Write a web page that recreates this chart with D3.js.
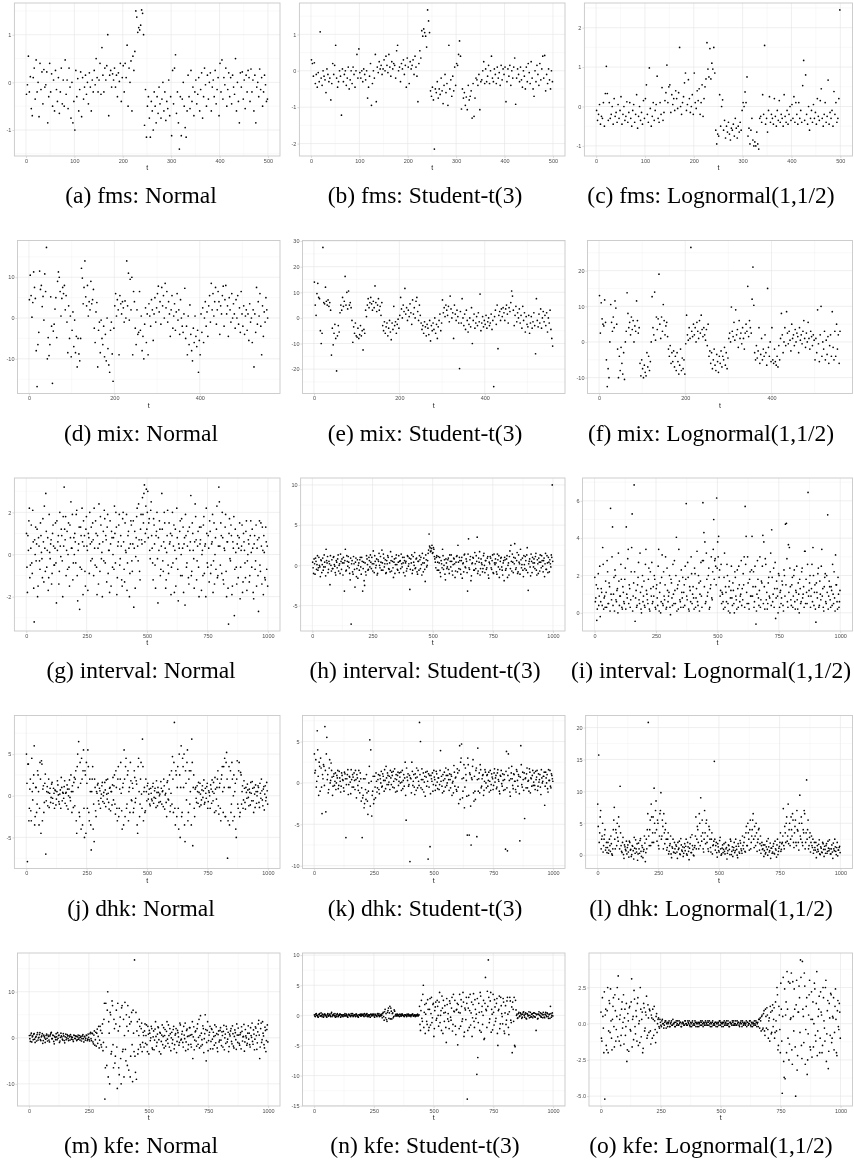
<!DOCTYPE html>
<html><head><meta charset="utf-8">
<script src="https://cdn.jsdelivr.net/npm/d3@7"></script>
<style>body{margin:0;background:#fff}
svg{will-change:transform}
.cap{font-family:"Liberation Serif","Times New Roman",Times,"DejaVu Serif",serif;}
.tk{font-family:"Liberation Sans",Arial,sans-serif;}
</style>
</head><body>
<svg id="c" width="854" height="1160"></svg>
<script>
const captions = [
 "(a) fms: Normal","(b) fms: Student-t(3)","(c) fms: Lognormal(1,1/2)",
 "(d) mix: Normal","(e) mix: Student-t(3)","(f) mix: Lognormal(1,1/2)",
 "(g) interval: Normal","(h) interval: Student-t(3)","(i) interval: Lognormal(1,1/2)",
 "(j) dhk: Normal","(k) dhk: Student-t(3)","(l) dhk: Lognormal(1,1/2)",
 "(m) kfe: Normal","(n) kfe: Student-t(3)","(o) kfe: Lognormal(1,1/2)"];
const seriesLength = [500,500,500,560,560,560,1000,1000,1000,1000,1000,1000,1000,1000,1000];
const sampleStep   = [2,2,2,2,2,2,4,4,4,4,4,4,4,4,4];
const xTicks500 = [0,100,200,300,400,500];
const xTicks560 = [0,200,400];
const xTicks1000 = [0,250,500,750,1000];
const yTicks = [[-1,0,1],[-2,-1,0,1],[-1,0,1,2],[-10,0,10],[-20,-10,0,10,20,30],[-10,0,10,20],
 [-2,0,2],[-5,0,5,10],[0,2,4,6],[-5,0,5],[-10,-5,0,5],[0,5,10,15,20],[-10,0,10],[-15,-10,-5,0,5,10],[-5,-2.5,0,2.5]];

const fmsNormal = [
-0.25,-0.05,0.55,-0.2,0.12,-0.55,-0.7,0.1,0.3,-0.35,
0.47,-0.2,0.0,-0.72,0.4,-0.15,0.22,-0.45,0.27,-0.1,
-0.05,0.22,-0.85,-0.3,0.4,-0.2,0.18,-0.5,0.05,-0.6,
0.25,-0.15,-0.4,0.1,-0.65,-0.2,0.3,-0.45,0.05,-0.5,
0.47,-0.25,0.05,-0.55,0.3,-0.1,-0.75,0.0,-0.85,-0.4,
-1.0,0.25,-0.3,0.08,-0.6,-0.15,0.22,-0.72,0.1,-0.35,
-0.1,0.15,-0.25,0.0,-0.45,0.2,-0.1,-0.6,0.05,-0.2,
0.25,-0.05,0.5,0.1,-0.2,0.05,0.4,-0.25,0.73,0.15,
-0.2,0.3,0.05,0.35,1.0,-0.7,0.15,0.25,-0.1,0.18,
0.05,0.3,-0.1,0.15,-0.3,0.2,0.02,0.4,-0.4,0.1,
0.35,-0.2,0.4,0.1,0.78,-0.5,0.3,0.0,0.45,-0.6,
0.55,0.25,0.65,1.5,1.37,1.05,1.15,1.1,1.2,1.52,
1.45,1.0,-0.9,-0.15,-1.15,-0.5,-0.3,-0.75,-1.15,-0.4,
-0.6,-1.0,-0.2,-0.5,-0.85,-0.3,-0.65,-0.1,-0.45,-0.75,
-0.35,0.0,-0.6,-0.2,-0.8,-0.4,-0.55,0.05,-0.7,-0.3,
-1.12,0.25,-0.45,0.3,0.58,-0.65,-0.2,-0.85,-1.4,-0.3,
-1.12,-0.35,0.0,-0.5,-0.95,-1.15,-0.6,0.15,-0.3,-0.55,
0.25,-0.4,-0.1,-0.7,-0.2,0.05,-0.45,-0.25,0.1,-0.6,
-0.15,0.2,-0.75,-0.3,0.3,-0.05,-0.5,0.15,-0.35,0.0,
0.2,-0.6,-0.1,0.05,-0.3,0.25,-0.45,-0.15,0.1,-0.7,
0.4,-0.2,0.47,-0.35,0.1,-0.05,0.3,-0.5,-0.15,0.2,
-0.3,0.1,-0.45,0.15,-0.1,-0.25,0.5,-0.6,0.0,-0.4,
-0.85,0.2,-0.1,0.22,-0.35,0.05,-0.55,0.15,-0.2,0.25,
0.1,-0.4,0.28,-0.2,0.05,-0.6,0.15,-0.85,-0.1,0.0,
-0.3,0.28,-0.15,0.1,-0.5,-0.2,0.15,-0.05,-0.4,-0.35];

const fmsStudent = [
0.3,0.2,-0.15,0.22,-0.35,-0.1,-0.45,-0.05,-0.3,1.07,
-0.2,-0.4,0.0,-0.15,-0.25,-0.6,0.05,-0.1,-0.3,-0.2,
-0.8,-0.35,0.2,-0.1,0.15,0.7,-0.2,-0.45,-0.3,0.0,
-0.15,-1.22,0.05,-0.3,-0.1,0.0,-0.4,-0.2,0.1,-0.5,
-0.25,0.0,-0.35,0.1,-0.1,-0.45,0.0,0.45,-0.2,0.6,
-0.05,-0.2,0.0,-0.3,0.05,-0.1,-0.25,0.0,-0.75,-0.45,
-0.15,0.2,-0.95,-0.35,0.0,-0.2,0.45,-0.85,0.1,-0.05,
0.25,0.05,0.15,-0.1,0.05,0.3,0.0,0.4,0.15,-0.05,
0.45,0.1,-0.15,0.25,0.05,0.2,0.15,-0.2,0.55,0.7,
0.0,0.1,-0.3,0.2,0.05,0.3,-0.1,0.15,-0.45,0.35,
0.1,-0.35,0.25,0.05,0.15,0.3,-0.1,0.4,0.1,-0.15,
-0.85,0.2,0.55,0.35,1.1,0.95,1.15,1.05,0.95,0.65,
1.67,1.37,1.05,-0.55,-0.7,-0.45,-0.8,-2.15,-0.5,-0.6,
-0.3,-0.75,-0.5,-0.65,-0.2,-0.55,-0.9,-0.4,-0.1,-0.6,
-0.35,-0.95,0.7,-0.5,-0.25,-0.7,-0.15,-0.55,0.1,-0.4,
0.2,0.15,0.45,0.82,0.4,-1.05,-0.5,-0.75,-0.6,-0.95,
-0.72,-1.07,-0.4,-0.8,-0.7,-0.55,-1.3,-0.35,-1.25,-0.75,
-0.2,-0.25,-0.4,-0.1,-1.07,-0.3,-0.25,0.0,0.25,-0.35,
0.05,-0.3,-0.15,0.15,-0.35,0.0,0.4,-0.2,-0.3,0.05,
-0.1,-0.35,0.1,-0.2,-0.05,-0.4,0.15,-0.25,0.05,-0.1,
0.1,-0.85,-0.3,0.05,-0.15,0.15,-0.4,0.0,-0.2,0.1,
0.35,-0.92,-0.2,0.05,-0.1,-0.3,0.1,-0.25,-0.45,0.0,
-0.15,-0.5,0.1,-0.3,0.2,-0.05,-0.35,0.25,-0.2,-0.5,
-0.7,0.0,-0.3,0.15,-0.1,-0.4,0.2,-0.25,0.05,0.4,
-0.2,0.42,-0.55,-0.1,-0.35,0.05,-0.25,-0.5,0.0,-0.3];

const fmsLognormal = [
-0.1,-0.35,-0.2,0.05,-0.45,-0.25,-0.3,0.1,-0.5,0.33,
1.02,0.33,-0.35,0.1,-0.3,-0.2,0.0,-0.45,0.2,-0.25,
-0.15,-0.4,0.05,-0.3,-0.1,0.25,-0.45,-0.2,0.0,-0.35,
-0.25,0.12,-0.4,-0.15,0.1,-0.3,-0.5,-0.1,0.05,-0.4,
-0.2,0.3,-0.55,-0.25,0.0,-0.35,-0.15,-0.45,0.15,-0.3,
0.2,0.55,-0.2,-0.4,0.98,-0.05,-0.5,-0.25,0.1,-0.35,
-0.1,0.05,0.77,-0.3,-0.4,0.1,-0.2,0.48,-0.35,-0.15,
0.15,0.35,1.05,0.1,0.5,0.55,-0.15,0.3,0.05,0.2,
-0.1,0.4,0.2,-0.05,0.35,1.5,0.0,-0.2,0.1,0.25,
0.6,0.85,-0.1,0.05,0.68,0.2,-0.15,0.0,0.3,-0.2,
0.85,0.1,-0.05,0.4,0.15,0.45,-0.2,0.1,0.55,-0.25,
0.2,0.5,0.7,1.62,0.95,0.75,1.47,0.7,1.1,0.95,
1.5,0.85,-0.6,-0.95,-0.7,-0.75,0.3,-0.5,0.0,0.17,
-0.6,-0.35,-0.8,-0.5,-0.65,-0.4,-0.7,-0.85,-0.55,-0.6,
-0.45,-0.75,-0.3,-0.55,-0.8,-0.5,-0.65,-0.4,-0.6,-0.1,
0.1,0.0,0.37,0.1,0.75,-0.75,-0.55,-0.95,-0.6,-0.3,
-0.85,-1.0,-0.9,-1.0,-0.65,-0.95,-1.08,-0.3,-0.25,-0.4,
0.3,-0.2,1.55,-0.45,-0.3,-0.65,-0.1,0.25,-0.4,-0.2,
-0.3,-0.45,0.2,-0.25,-0.5,-0.1,-0.35,0.15,-0.4,-0.2,
-0.3,-0.5,0.3,-0.25,-0.4,-0.1,-0.45,-0.2,0.0,-0.35,
0.05,-0.3,0.25,-0.4,0.1,-0.2,-0.45,0.1,-0.3,-0.1,
-0.4,0.53,1.17,-0.35,0.8,-0.2,-0.45,0.0,-0.6,-0.3,
-0.1,-0.4,0.05,-0.3,-0.15,-0.45,0.2,-0.25,-0.35,0.15,
0.45,-0.3,-0.5,-0.2,0.1,-0.4,-0.25,0.67,-0.45,-0.15,
-0.3,-0.1,-0.5,0.38,-0.2,0.1,-0.4,-0.3,0.2,2.45];

const mixNormal = [
4.5,10.5,5.5,0.2,3.8,11.3,7.5,4.8,-8,-16.8,
-6.5,-3.5,11.5,7,8,2.8,5.3,-0.5,10.8,6.5,
17.3,-10,-4.8,-9.2,-6.5,5.2,-2,-16,-3.2,-1.5,
2.2,5,-4.8,9,11.3,10,6.5,0.5,4.8,7.5,
6,8,2,5.5,-1,-8.5,3,-5,0.5,-9.5,
-3,1.5,-7,-0.5,-8.5,-4.5,-12,-5,-8.8,-10.5,
-5,12.2,9.8,3.5,7.5,14,5.2,3,8,0.5,
4,2,9,3.5,4.5,7,-2.5,-6,1.5,3.8,
-12,-3,-1,-8.5,-0.5,-5,-6.5,-2,-9.5,-4,
-10.5,0,-7.5,-11.5,-13.3,-3,-1,-8.8,-15.5,-2.5,
3,6,0.5,4.5,2,-9,5.5,3.5,1,4,
2.5,-1,4.2,0,14,3,11,-0.5,9.5,2,
10,-9,6.5,4,-2.5,-6.5,2,-4,-3.5,6.5,
-3,0.5,-8,-4.5,-10,-1.5,2.5,-6,1,-9,
3.5,0.5,-2,4.5,2,-5.5,1,5,-1,2.5,
6,7.8,1.5,4,-1.5,7.5,3,5.5,0,8.5,
2.5,6.5,-1,4,1,-4.5,2,5.5,-2.5,0.5,
3.5,-3,1.5,6,-0.5,2,-4,4.5,0,-2,
-3.5,1,7.3,-5,-2,-9,0.5,-6.5,3.2,-4,
-8,-10.5,-2.5,-6,0.5,-4.5,-7,-3,-13.3,-5.5,
-9,1,-3.5,2.5,-6,0,4,-2,1.5,-4.5,
3,5.5,-1,8.5,2,6,0.5,4,7.5,-1.5,
2,6.5,4,-4,3,1,5.5,7.8,-2,4.5,
8,1,3,-4.5,5,2,-1,6,0,3.5,
1,-2.5,4.5,0,5.5,-1.5,2.5,-3.5,6.5,1,
-2,3,-4,0.5,2,-3,1,-5.5,3.5,-1,
0,-6,2,-12,1,-3.5,7.5,-1.5,4,0.5,
6,-2,-9,3,-4.5,1.5,-1,5,2,0];

const mixStudent = [
14,5,1,9.5,13.5,8,7.5,-5,-10,-6,
27.5,6,5.5,12,6.5,5,7,4.5,6,3,
-14.5,-4,-10.5,-6,-2.5,-8,-20.7,-7,-3,-5.5,
2,5,3,8,4.5,6.5,16.2,5,10,3.5,
10.5,5,6,4,-1,-9.5,-3.5,-6,-2,-7,
-7.5,-4,-8,-6.5,-3,-7,-5,-12.5,-4.5,-6,
3,0.5,5,7.5,4,6,8,5.5,3,6.5,
4,12.5,6,2.5,5,7.5,3,4.5,1,6,
-3,-5,-1.5,-6,-3.5,-2,-7,-4,-1,-5.5,
-8.5,-2,-4.5,4.5,-3,-1.5,-6,-2.5,-0.5,-4,
1,8,3.5,0,5,2.5,11.5,1.5,4,-1,
3,0.5,5.5,2,-2.5,7,1.5,4,0,6.5,
8,2.5,-1,5,1,-2,-4.5,-3,-6,-1.5,
-3.5,-7,-2.5,-4,-6.5,-1,-9,-3,-5,-2,
-4.5,0,-6,-2.5,-8,-3.5,-1,1.5,-5,-2,
7,2,4,0.5,5,3,1,4.5,-1.5,8.5,
3.5,0,2,-8,5,1.5,-1,3,0.5,-2,
-19.8,2.5,-2,7.5,0,-3,1.5,-4.5,3,-1,
-5.5,-2.5,0,-3.5,4,-10,-1,1.5,-4,-2,
0.5,-3,2,-1.5,9.3,-5,-2,0.5,-3.5,-1,
-2.5,1,-4,-1.5,0,-3,-2,1.5,-4.5,-1,
-26.8,0.5,3,-2.5,5,-12,1,2.5,-1,3.5,
0.5,4,2,-1,3.5,5,1.5,-2,4,2.5,
6,10.5,8.5,3,-3,1,4.5,-1.5,2,0,
3.5,-2,1,-4,4.5,-1,2,-5.5,0.5,-2.5,
-3.5,1,-6,-2,0.5,-4,-1.5,2,-3,-14,
7.5,-1,-3.5,1.5,-2,3.5,-4,0,2.5,-1.5,
1,-3,2,-5.5,0,-2,3,-4.5,-8,-11];

const mixLognormal = [
13,2.5,11,6.5,5,4.5,11.8,5.5,-5,-12.5,
-7.5,-10,0,10.5,5.5,3,7,4,11.5,9.5,
5,-2,-10,-4,-8,-1.5,-6,-9,-3,-10.5,
0,3,13.8,8,4,5.5,2,7,3.5,6,
0,4.5,3,11.5,6,2.5,4,-6,-9.5,-5,
-7.5,-10,-6.5,-8.5,-9.5,-3,-7,-4,-8,-5.5,
0,12.7,4,2,14,0.5,7,3.5,6.5,19,
5,1,7,3,10.5,6,2,4.5,5.5,1.5,
-2,-4,-1,-6,-3,-5.5,-2.5,-7,-4,-8,
-3,-5.5,-9,-6.5,-2,-8,-4.5,-7.5,-5,-9,
-0.5,7.5,2,0.5,4,1,26.5,3,1.5,5,
2,4,0,5.5,3,1,6,2.5,7.5,3.5,
1.5,4,2,0.5,3.5,-1,5,-4,-2.5,-6,
-3,-7.5,-5,-2,-6.5,-8,-3.5,-5.5,-8.5,-4,
-6,-2.5,-7,-4,-5,-1.5,-6.5,-3,-7.5,-4.5,
1,2.5,0,9.8,3,1.5,5.5,0.5,9,2,
3.5,-1.5,6,1,2.5,-0.5,4,1,-2,2.5,
5,3,15.6,1.5,6,4,2.5,12,21,10.3,
-3,-5,-1,-4.5,-2.5,4,-6,-3.5,1,-5,
-2,-4,2,-3,-6.5,15,-1.5,-4,0,-5.5,
4,-5,-6,-2,-5.5,-6.5,-4,-7,-1,-5,
1,8,2,-3,0,4,-1,8.5,2.5,-0.5,
3,0.5,-2.5,5,1,2,-1,3.5,0,2.5,
1.5,-3,4,0.5,2,-0.5,3,6,1,-1.5,
2.5,0,5.5,1,-2,3,1.5,-1,2,0.5,
-5,1,-3,9,-0.5,-5.5,2,10,-4,0,
-2,3,-5,0.5,-3.5,1.5,-6,-1,2,-4,
8.5,-1.5,-5,3,-4,5,-2,2,-6,3];

// 1000-length series: values at t = 1,5,9,... (A) and t = 3,7,11,... (B)
const intervalNormal = [
1.0,-1.8,0.2,2.2,-0.5,1.4,-0.9,0.6,-3.2,0.0,
-0.3,1.2,-1.5,0.4,-0.7,0.9,-0.2,1.7,-1.3,0.3,
2.9,-0.6,0.8,-1.1,0.1,0.5,-1.4,1.0,0.4,-0.5,
1.5,-2.3,0.2,0.9,-0.8,0.4,1.2,-0.3,1.8,3.2,
0.7,-1.0,1.1,0.0,-0.6,1.4,2.5,0.3,-1.2,0.8,
1.0,-0.4,2.1,-2.2,0.5,-2.6,1.3,-0.7,0.6,1.6,
0.9,-1.5,1.8,0.2,1.0,-0.9,0.5,1.3,-0.2,0.7,
2.2,-0.5,1.0,-1.9,0.3,2.4,-0.8,1.4,0.1,0.6,
-0.3,1.7,0.9,-1.3,1.9,0.2,-1.8,0.5,1.1,-0.6,
0.8,2.3,-0.4,1.3,-1.1,0.6,1.9,-0.2,0.4,-1.5,
2.0,-0.7,1.5,0.1,-1.7,0.9,0.3,-0.9,1.6,-0.3,
0.5,-2.5,1.1,-0.1,1.8,0.4,2.4,-0.8,1.2,0.7,
2.7,1.5,3.3,1.0,3.1,2.0,0.8,1.7,-0.2,2.5,
0.3,-1.2,1.4,-0.5,0.9,2.0,-2.3,0.2,1.2,-0.7,
2.9,-0.3,0.6,1.5,-1.6,0.1,2.1,-0.9,0.5,1.0,
-0.6,2.0,0.4,-1.8,1.2,-0.2,0.8,-2.2,0.3,1.6,
0.0,-1.0,1.3,0.5,-2.4,0.9,-0.4,1.1,-1.4,0.2,
2.8,-0.8,1.0,-0.2,0.6,1.8,-1.2,0.4,-0.6,1.3,
0.7,-1.7,0.2,1.4,-0.9,0.5,2.2,-0.4,0.9,-1.3,
1.1,-0.5,0.6,-1.8,1.5,0.0,-0.7,2.3,-1.0,3.2,
0.4,1.5,-0.9,0.8,-1.4,0.2,1.9,-2.0,0.6,-3.3,
1.7,-0.3,0.9,-1.5,0.3,-2.9,1.2,-0.6,0.5,-1.1,
0.8,-2.1,0.2,1.4,-1.3,0.6,-0.4,1.1,-1.7,0.0,
0.5,-1.0,1.6,-0.6,0.3,-2.1,0.9,-0.3,-1.5,0.7,
-2.7,1.6,-0.8,0.4,1.3,-1.9,0.1,-1.2,0.6,0.4];
const intervalNormalB = [
-0.6,0.9,1.6,-1.1,0.3,-0.4,2.1,-1.6,0.7,1.3,
0.5,-2.0,0.8,-0.3,1.5,0.1,-1.1,0.6,2.3,-0.8,
1.1,0.2,-1.7,1.9,-0.2,0.7,-0.9,1.4,-0.5,0.3,
-0.4,1.6,0.6,-1.4,2.0,-0.1,0.9,-2.0,0.4,1.2,
1.8,0.2,-0.7,1.5,-1.5,0.8,0.3,1.9,-0.4,0.0,
0.6,1.9,-1.0,0.2,1.3,-0.6,0.9,2.2,-1.9,0.4,
-0.8,1.2,0.4,-1.7,0.8,2.0,-0.3,0.6,1.5,-1.0,
0.3,1.6,-0.6,0.9,-1.4,0.5,1.8,-0.2,-2.0,1.1,
2.1,-0.4,0.7,1.3,-0.9,0.2,1.6,-1.5,0.8,0.0,
-0.7,1.0,2.0,-1.9,0.4,1.4,-0.5,0.9,-1.2,1.7,
0.6,-1.3,0.2,1.9,-0.4,1.1,-2.0,0.5,1.4,-0.8,
1.6,0.3,-1.6,0.8,2.2,-0.3,0.7,-1.2,1.9,0.5,
1.9,2.9,0.6,2.3,1.2,3.0,1.5,0.2,2.1,0.9,
-0.4,1.7,0.5,-1.6,1.1,-0.2,0.8,1.6,-1.0,0.4,
1.2,-0.8,2.0,0.3,-1.2,0.9,-0.5,1.5,0.6,-1.9,
0.9,-0.4,1.4,0.2,-1.5,2.2,-0.7,0.5,1.1,-1.0,
1.7,0.3,-1.8,0.8,1.9,-0.6,0.4,-1.1,1.3,0.6,
-1.0,1.5,0.2,-1.6,2.4,0.7,-0.3,1.1,-2.0,0.5,
1.3,0.0,-1.0,1.8,0.4,-2.0,1.0,-0.6,0.3,1.6,
-0.9,0.5,1.9,-0.3,-1.4,0.8,1.2,-1.1,0.4,2.5,
-0.5,0.9,2.0,-1.2,0.3,1.3,-0.8,0.6,-1.6,1.0,
-0.2,1.4,-1.9,0.6,1.8,-0.7,0.1,-1.4,0.9,0.3,
1.5,-0.6,0.4,-1.8,1.0,0.2,-1.1,1.6,-0.3,0.7,
-1.3,0.9,0.1,1.2,-1.8,0.5,-0.7,1.4,0.3,-1.0,
0.8,-0.5,1.5,-1.4,0.2,0.9,-1.1,1.3,-0.7,-1.5];

const intervalStudent = [
0.4,-1.0,0.2,0.9,-0.5,1.2,-0.3,0.0,-1.4,0.6,
0.1,-0.6,1.3,-0.2,2.0,0.3,-0.9,0.5,-2.4,0.0,
0.7,-0.4,1.1,-0.1,-1.2,0.4,0.8,-0.7,0.2,1.4,
-0.5,0.3,1.0,-3.2,2.0,-0.6,0.5,1.1,-0.3,-1.8,
-7.3,0.6,-1.1,0.2,-2.7,0.9,-0.4,-1.6,0.3,0.7,
-0.2,1.0,-3.2,0.4,-2.5,-0.8,1.2,0.1,-0.5,0.6,
1.3,-0.4,0.2,1.8,-0.9,0.5,0.0,-1.2,0.7,1.5,
-0.3,0.4,1.9,-0.6,0.9,0.2,-1.0,0.6,1.2,-0.4,
0.3,1.7,-0.7,0.5,-1.5,0.8,0.1,1.3,-0.5,0.4,
-0.9,0.6,1.4,-0.2,0.3,1.0,-1.3,0.5,-0.4,1.1,
0.2,-3.0,0.8,1.3,-0.6,0.4,1.6,-0.3,0.9,-1.1,
0.5,1.2,-0.4,0.1,1.5,-0.8,0.3,-2.0,0.7,0.0,
1.5,3.9,2.2,1.8,2.5,1.6,2.0,0.8,-0.3,1.2,
0.4,-0.6,1.0,-1.4,0.2,2.0,-0.5,0.7,-1.8,0.3,
-0.2,0.9,-1.0,0.5,1.3,-0.7,0.1,0.8,-1.5,0.4,
1.2,2.5,-0.4,0.6,-1.1,1.0,0.2,-0.8,1.4,-0.3,
0.5,-3.2,3.3,-0.5,1.1,-1.3,0.3,0.9,-0.6,0.2,
1.2,3.5,-0.7,0.4,-1.2,0.8,0.1,-0.4,1.5,-0.9,
0.6,-0.3,1.1,-1.6,0.2,0.9,-0.5,1.3,-1.0,0.3,
0.8,-0.8,1.4,-0.2,-1.5,0.5,1.0,-0.6,0.3,-1.9,
0.7,-0.4,1.2,0.0,-1.2,1.8,2.5,-0.7,0.4,1.0,
2.7,-0.5,0.6,-1.0,1.3,0.2,2.0,-0.3,0.9,-1.4,
0.1,1.1,-0.6,2.2,-3.1,0.5,-0.2,1.4,-0.9,0.3,
0.8,-0.4,1.5,-1.2,0.2,0.9,-0.7,0.4,1.2,-0.1,
0.6,-1.4,1.5,-0.5,0.3,1.0,-0.8,0.2,1.3,10];
const intervalStudentB = [
-0.3,0.8,-1.1,0.5,0.1,-0.6,1.0,-0.2,0.7,-0.9,
0.9,-0.2,0.4,-1.3,0.6,1.1,-0.5,0.2,1.2,-0.7,
-0.4,1.0,0.1,-0.9,0.6,-0.3,1.3,0.0,-1.0,0.5,
0.8,-1.2,0.3,0.6,-0.7,1.2,-0.1,0.4,-1.0,0.9,
0.2,-0.8,1.1,-0.5,0.4,-1.4,0.7,0.0,-0.6,1.0,
-1.1,0.5,-0.4,-1.9,0.3,-1.2,0.8,-0.6,1.0,-0.2,
0.4,1.0,-0.7,0.2,1.2,-0.3,0.8,-1.0,0.5,0.0,
1.1,-0.6,0.3,1.4,-0.2,0.7,-0.9,0.2,1.0,-0.5,
-0.8,0.6,1.1,-0.3,0.4,-1.0,0.9,0.1,-0.6,1.2,
0.5,-0.4,0.2,1.0,-0.9,0.6,0.3,-0.7,1.2,-0.1,
0.9,-0.5,0.3,-1.0,1.1,0.0,-0.4,0.8,-0.8,0.5,
-0.6,0.7,1.0,-1.2,0.3,0.9,-0.5,1.3,-0.2,0.6,
1.9,2.4,1.7,2.1,1.5,2.2,1.1,0.4,1.0,-0.6,
1.1,0.3,-0.9,0.6,-0.3,1.2,0.0,-1.1,0.8,-0.4,
0.7,-0.5,1.3,-0.2,0.5,-1.2,0.9,0.2,-0.7,1.1,
-0.8,0.4,1.0,-0.5,0.6,-1.6,0.3,1.3,-0.2,0.8,
-0.9,1.4,-0.3,0.7,-1.9,0.2,1.0,-0.6,1.6,-0.4,
0.5,-1.0,0.9,1.7,-0.4,0.3,-0.8,1.2,0.0,0.6,
-0.5,0.9,-1.2,0.4,1.1,-0.3,0.6,-0.9,1.4,0.1,
0.3,-1.1,0.7,1.2,-0.5,0.9,-0.2,-1.2,0.6,1.0,
-0.6,0.8,-1.5,0.3,1.1,-0.4,0.5,1.4,-0.9,0.2,
0.9,-0.3,1.6,-0.8,0.4,-1.1,0.7,0.1,-0.6,1.2,
-0.4,0.6,1.3,-0.9,0.2,0.8,-1.3,0.5,1.0,-0.2,
0.3,1.1,-0.6,0.7,-1.0,0.4,1.3,-0.3,0.6,-0.8,
0.9,0.2,-0.5,1.2,-0.9,0.4,0.7,-0.2,1.0,0.5];

const intervalLognormal = [
1.9,0.8,-0.4,1.3,0.4,2.5,0.6,1.1,3.5,0.2,
0.9,1.7,0.3,2.2,0.5,1.4,5.6,0.7,4.6,1.0,
0.1,2.0,0.6,1.3,3.2,0.4,0.9,1.8,0.2,1.1,
0.5,2.4,4.6,0.8,3.4,1.5,0.3,2.2,5.3,0.9,
6.85,-0.45,1.2,0.4,1.9,0.7,3.2,0.2,1.4,0.6,
1.7,0.3,3.4,1.0,0.5,2.4,0.1,1.3,2.7,0.6,
0.9,1.8,0.2,1.5,0.4,3.4,1.1,0.0,1.9,0.5,
2.2,0.7,3.0,0.3,1.2,0.9,2.0,-0.1,1.6,0.4,
1.0,2.8,0.5,4.05,1.3,0.2,1.7,0.6,2.3,0.8,
0.3,1.5,2.5,5.85,0.7,1.9,0.1,1.2,3.0,0.5,
1.4,0.2,2.1,0.8,3.3,0.4,1.6,1.0,2.7,0.3,
5.9,4.3,3.8,0.6,1.8,1.1,2.4,0.3,1.5,0.8,
2.2,5.0,2.8,2.5,6.15,3.8,4.1,2.3,1.2,0.5,
1.0,0.2,3.2,1.4,0.6,2.0,0.1,1.7,0.8,2.5,
0.4,1.2,0.0,1.9,0.7,2.3,0.3,1.5,0.9,2.8,
1.3,2.1,3.0,5.7,4.1,0.5,1.6,0.2,2.2,0.9,
4.1,1.4,0.3,2.5,-0.6,1.0,1.8,0.4,3.0,0.7,
1.6,4.15,3.8,0.2,2.6,1.1,0.5,1.9,0.8,3.2,
4.45,0.6,2.4,1.3,-0.3,1.7,0.9,2.1,0.3,1.2,
0.8,1.5,0.1,2.0,4.75,4.8,0.6,3.65,3.5,1.4,
0.4,1.9,0.9,2.3,0.2,1.1,0.7,1.6,0.0,1.3,
0.6,2.4,1.0,0.3,3.3,1.8,0.5,6.45,1.2,2.0,
0.9,2.6,3.5,0.4,1.5,-0.5,1.1,2.1,0.3,1.7,
0.7,3.4,1.3,0.1,1.9,0.6,2.0,5.25,0.9,1.4,
0.3,1.2,2.6,0.5,0.8,3.1,1.5,0.2,1.0,0.6];
const intervalLognormalB = [
0.6,1.5,0.2,2.1,0.9,-0.2,1.3,0.4,2.6,0.8,
0.3,1.1,2.8,0.5,1.6,0.1,1.0,3.0,0.4,1.9,
2.3,0.7,1.2,0.0,1.7,0.9,2.6,0.3,1.4,0.6,
1.8,0.2,1.0,2.9,0.5,1.3,0.7,3.5,0.1,1.6,
2.2,0.8,0.3,1.5,2.7,0.5,1.1,0.0,2.0,0.9,
0.4,2.6,1.2,0.7,1.8,0.2,2.2,0.9,0.5,1.4,
2.0,0.3,1.3,0.8,2.5,0.1,1.6,0.6,3.1,0.4,
0.9,1.5,0.2,2.4,0.6,1.1,0.3,1.8,0.8,2.6,
0.5,1.2,2.0,0.1,1.5,3.4,0.7,0.3,1.1,1.9,
1.1,0.4,1.8,0.9,2.7,0.2,1.4,0.6,2.1,1.0,
0.8,2.4,0.3,1.3,0.6,2.0,0.1,1.7,0.9,2.8,
2.8,1.4,0.5,3.2,0.9,2.0,0.2,1.3,3.0,0.7,
3.4,1.8,2.9,1.5,2.4,3.0,1.9,0.9,2.6,1.1,
0.6,1.9,0.3,1.1,2.6,0.5,1.4,0.0,1.2,0.8,
1.6,0.5,2.2,0.9,0.2,1.3,2.5,0.6,1.0,0.4,
0.7,1.5,0.3,2.6,1.1,3.0,0.5,1.8,0.9,2.3,
0.9,2.2,0.6,1.4,0.1,2.8,0.8,1.2,0.3,1.7,
2.5,0.5,1.4,2.9,0.7,0.2,1.6,0.9,2.2,0.4,
1.9,1.0,0.3,2.7,0.8,1.3,0.0,2.0,1.1,0.5,
1.7,0.4,2.3,0.9,1.5,2.9,0.3,1.1,2.4,0.7,
1.5,0.3,2.0,0.6,1.2,2.5,0.2,1.0,1.8,0.5,
2.2,0.8,1.4,3.3,0.5,1.1,2.6,0.9,1.6,0.3,
1.3,0.6,2.0,1.1,0.2,1.6,0.8,2.4,0.4,1.0,
2.5,0.9,0.3,1.4,2.1,0.5,1.1,0.2,1.7,0.7,
1.4,0.4,1.0,2.2,0.1,1.5,0.6,1.9,0.3,1.2];

const dhkNormal = [
5.0,-7.9,3.8,-1.5,2.0,-3.0,0.5,1.5,6.0,-2.5,
1.0,-1.0,2.5,-3.5,4.0,-4.5,3.8,0.8,-2.0,1.5,
-7.0,0.5,-1.2,2.0,0.3,-0.8,1.4,-0.3,0.9,-1.5,
0.6,-0.4,1.8,0.1,-1.0,0.7,2.2,-0.6,0.3,1.1,
-0.9,0.4,1.3,-1.6,0.8,-0.2,2.5,-2.0,0.5,1.6,
-1.2,3.0,-4.5,5.0,6.5,-2.5,1.5,4.5,-3.5,5.5,
-5.0,2.5,4.0,-1.5,3.5,-3.0,0.5,-6.5,2.0,-4.0,
-5.5,1.0,-2.5,0.3,1.5,-1.0,0.6,-0.3,1.2,-0.7,
0.4,1.6,-1.3,0.2,2.0,-0.8,0.9,-1.8,0.5,1.3,
-0.5,2.5,-2.2,1.0,-3.0,3.5,-1.5,2.0,0.3,-4.0,
1.5,5.5,-2.5,4.5,-1.0,3.0,0.5,-2.0,1.8,-0.6,
0.9,-1.5,2.2,-0.3,1.4,-4.5,4.5,-2.5,2.0,0.2,
6.8,-3.0,1.0,-1.8,0.5,1.2,-0.4,0.8,-1.2,0.3,
-0.6,1.5,-0.2,0.9,-1.4,0.4,1.0,-0.8,0.2,1.7,
-1.0,0.6,2.0,-1.6,0.3,-2.5,1.8,-0.5,2.5,-1.2,
3.0,4.7,-2.0,8.8,-3.5,2.5,1.0,-1.5,5.0,-5.0,
6.0,-2.0,3.5,5.0,-5.5,1.5,4.0,-3.0,2.0,-1.0,
3.0,6.8,-6.0,2.5,-2.5,1.0,-0.8,0.5,1.6,-1.3,
0.2,-0.5,1.2,0.6,-1.0,0.9,-0.3,1.5,-0.7,0.4,
-1.5,0.8,1.9,-0.6,0.3,2.2,-1.8,1.0,3.0,-2.2,
1.5,-3.0,2.5,0.5,3.5,4.5,-2.5,5.2,-7.5,1.0,
-3.5,3.0,-1.0,2.0,0.0,-2.5,1.5,-5.0,4.2,-1.5,
4.0,-2.0,2.5,0.5,-1.5,1.8,-0.8,1.0,-0.3,0.7,
-1.2,0.4,1.6,-0.6,0.9,-2.0,0.2,1.3,-0.9,0.5,
1.0,-1.4,0.3,2.0,-0.5,0.8,-1.7,1.2,-0.2,0.6];
const dhkNormalB = [
1.5,3.8,-3.0,0.8,-1.8,4.5,-0.5,2.5,-3.5,1.0,
-2.0,3.0,0.5,-1.5,2.0,4.2,-3.0,1.2,-0.8,2.6,
-0.6,1.1,0.4,-1.4,0.9,-0.2,1.6,-0.9,0.3,0.7,
-1.1,0.5,1.3,-0.7,0.2,-1.5,1.0,0.4,-0.3,1.8,
0.3,-1.2,0.8,0.0,1.9,-0.6,0.5,1.2,-1.4,2.2,
2.0,-3.0,3.5,1.0,-2.0,4.0,-4.0,2.0,3.0,-1.5,
3.0,-4.5,1.5,5.5,-2.0,2.0,-3.5,0.5,3.5,-1.0,
2.0,-1.8,0.5,1.3,-0.6,0.9,-1.5,0.2,1.6,0.0,
-0.9,0.7,1.9,-0.4,0.3,-1.6,1.0,0.5,-1.1,2.2,
1.2,-1.0,3.0,-1.5,2.0,-2.5,0.8,4.0,-1.8,1.0,
-3.5,2.0,3.5,-1.5,2.5,-3.0,1.0,4.0,-0.5,1.5,
-2.0,3.0,-0.8,1.8,-3.5,3.5,0.5,-1.0,4.0,-1.5,
3.5,0.5,-2.0,2.0,-0.6,1.5,0.2,-1.0,0.9,-0.4,
1.1,-0.9,0.6,-0.3,1.8,-1.2,0.4,0.0,-0.7,0.9,
0.5,-1.3,1.2,0.1,-0.8,1.6,-0.4,0.8,-1.9,0.3,
-1.0,2.0,4.0,-1.5,3.0,-2.5,3.5,-4.0,2.5,1.0,
-2.5,4.5,1.0,-3.5,3.0,-0.5,5.5,-2.0,3.0,0.5,
-3.5,4.0,1.0,-1.5,0.8,-0.3,1.2,-0.9,0.4,1.5,
-1.1,0.7,-0.2,1.9,-0.8,0.3,1.1,-1.5,0.6,0.0,
1.3,-0.9,0.5,1.6,-2.0,0.8,-0.4,2.0,-1.2,1.0,
-1.5,2.0,3.5,-2.0,1.0,-2.5,4.0,2.0,-3.0,3.5,
1.0,-2.0,4.0,-3.0,2.5,0.5,-4.0,2.0,-1.0,3.0,
-2.5,2.8,-1.0,1.2,-0.5,0.9,-1.6,0.4,1.4,-0.2,
0.8,-1.1,0.3,1.7,-0.6,1.0,-1.4,0.5,0.0,1.2,
-0.8,1.5,-0.3,0.6,-1.2,1.1,0.2,-0.6,1.6,-1.0];

const dhkStudent = [
3.5,1.5,-0.5,6.3,0.8,2.5,-1.0,1.8,-3.7,0.5,
2.0,6.8,-3.5,5.5,1.0,-0.8,2.8,0.3,1.5,-1.5,
0.8,-0.3,1.2,0.0,0.6,-0.7,1.4,0.2,-0.4,0.9,
0.3,-1.0,1.1,-6.6,0.5,1.6,-0.2,0.7,-1.3,0.4,
1.0,-0.5,0.3,1.5,-1.8,0.6,-0.9,0.2,1.2,-2.2,
-6.6,-1.5,-3.0,0.5,-2.0,-1.2,-3.8,0.0,5.2,4.0,
-4.0,-1.0,-2.5,0.8,-1.8,0.2,-0.6,1.0,-1.3,0.5,
1.4,-0.4,0.8,-1.0,0.3,2.0,-0.2,0.9,0.1,-0.8,
0.6,1.3,-0.5,0.2,1.7,-1.1,0.4,0.9,-0.3,1.2,
0.0,-0.9,1.5,0.3,-0.4,2.5,-4.5,0.7,1.1,-0.2,
-9.5,0.5,2.5,-0.3,1.0,-1.4,0.6,1.8,-0.6,0.2,
7.3,5.0,0.4,-0.8,1.2,0.1,-1.6,0.7,1.4,-9.2,
-0.5,-7.7,0.9,0.2,-1.0,1.5,0.4,-0.3,1.1,-0.7,
0.6,-0.2,3.9,0.8,-1.2,0.3,1.3,-0.5,0.9,0.0,
1.6,-0.9,0.4,1.0,-1.5,0.2,2.1,-0.4,0.7,-1.0,
1.2,-2.5,4.5,2.5,4.7,-1.8,0.6,-3.0,1.8,0.3,
-6.3,2.2,-6.3,1.0,-7.5,0.4,2.8,-2.2,-1.0,1.5,
-6.5,4.2,0.5,-1.2,1.6,-0.4,0.9,-1.5,0.2,1.3,
-0.6,1.0,0.3,-1.1,1.5,-0.2,0.7,-0.8,1.2,0.1,
0.9,-0.5,1.6,0.2,-1.3,0.8,-0.1,1.1,-0.9,0.4,
-8.0,3.8,-8.2,3.5,0.3,-1.6,1.2,0.5,-0.7,1.0,
0.2,-1.1,1.4,-0.4,0.8,-7.0,4.5,-0.2,1.3,-0.9,
-4.3,0.6,1.1,-0.6,0.3,1.7,-1.2,0.5,0.9,-0.3,
1.2,-0.8,0.4,1.5,-0.4,0.1,1.0,-1.4,0.6,0.2,
0.8,-2.7,1.3,0.0,-0.7,1.6,0.3,-0.4,1.1,0.5];
const dhkStudentB = [
1.2,2.8,0.2,4.0,-1.5,2.0,3.0,-0.5,1.0,2.2,
-0.3,1.5,3.5,0.4,-1.2,1.8,0.0,2.4,0.7,-0.4,
1.1,0.2,-0.8,0.9,1.5,-0.3,0.6,-1.1,1.2,0.4,
-0.6,1.3,0.5,-0.2,1.0,-1.4,0.8,0.1,1.6,-0.5,
0.7,1.2,-0.8,0.4,1.0,-0.3,1.5,-1.2,0.5,-0.6,
-1.8,0.5,-2.5,-0.8,1.0,-2.2,-1.0,2.0,-2.8,0.2,
-1.5,0.8,-2.0,-0.5,1.2,-1.1,0.4,-0.8,0.9,0.0,
-0.5,1.1,0.3,1.6,-0.7,0.6,1.2,-0.2,0.8,1.5,
-0.2,0.9,1.4,-0.6,0.5,1.0,-1.0,1.3,0.2,0.7,
1.3,0.1,-0.7,1.0,0.6,-1.5,1.8,0.3,-0.4,0.9,
0.6,-1.2,1.4,0.2,-0.5,1.1,-0.9,0.7,1.5,-0.3,
1.0,-0.6,1.7,0.4,-1.1,0.8,1.3,-0.4,0.2,1.1,
0.9,-1.3,0.5,1.2,-0.2,0.7,-0.9,1.4,0.1,0.6,
-0.8,1.5,0.2,-0.4,1.0,-1.0,0.5,1.8,-0.3,0.9,
0.4,1.1,-0.6,0.8,0.0,-1.2,1.3,0.6,-0.8,1.7,
-0.5,1.5,-2.0,3.0,0.5,-1.0,2.2,-0.5,1.0,-1.6,
3.0,-1.5,1.2,-2.8,0.6,2.0,-1.2,0.8,-2.0,1.8,
0.4,-1.0,1.2,2.2,-0.6,0.5,1.0,-0.9,1.6,0.0,
0.9,-0.4,1.3,0.2,-0.9,1.1,0.5,-0.3,1.7,0.6,
-0.7,1.2,0.4,-1.0,0.9,1.5,-0.4,0.3,1.0,-0.8,
1.4,-0.6,0.9,1.8,-1.1,0.5,2.0,-0.3,1.1,0.2,
-0.8,1.6,0.3,1.0,-1.3,0.7,2.2,-0.5,0.4,1.2,
0.5,-0.6,1.8,0.2,-1.0,1.3,0.6,-0.4,1.5,0.1,
-0.3,1.4,0.7,-0.9,1.1,0.4,-0.5,1.6,0.0,0.8,
1.3,-0.4,0.6,1.0,-1.1,0.3,1.5,-0.6,0.9,0.2];

const dhkLognormal = [
8.0,15.7,3.5,7.0,2.5,5.0,1.5,3.2,0.8,2.0,
1.2,0.3,2.5,0.6,1.8,0.0,4.0,7.5,1.0,3.5,
5.0,2.2,4.5,10.8,1.5,0.4,2.8,-0.5,1.3,0.7,
0.2,1.6,-0.3,2.0,0.9,0.1,1.4,-0.6,1.1,2.4,
0.5,-0.8,1.9,0.3,2.6,-0.2,1.2,0.6,3.0,-1.0,
2.5,4.0,20.8,1.5,5.5,8.0,2.0,6.0,10.5,3.5,
8.5,2.2,5.0,1.0,6.5,9.8,3.0,4.5,6.5,1.8,
5.0,0.8,2.5,0.2,1.5,3.0,-0.4,1.1,0.5,2.0,
0.3,1.4,-0.5,0.9,2.2,0.1,1.6,0.6,-0.2,1.2,
0.7,2.5,0.0,1.3,-0.7,1.8,0.4,3.2,0.9,-0.1,
1.5,6.0,2.5,4.0,1.0,5.0,9.0,2.2,3.5,0.5,
7.0,1.8,5.5,3.0,0.6,4.0,1.2,2.5,0.2,1.6,
14.7,0.8,2.0,-0.3,1.3,0.5,2.8,0.0,1.1,0.4,
1.8,0.2,1.0,-0.6,0.7,1.5,0.1,2.2,0.6,-0.2,
1.2,0.4,2.5,0.9,-0.4,1.4,0.3,1.9,0.7,3.0,
1.0,2.8,0.5,4.5,1.5,3.5,0.8,5.5,2.0,4.0,
6.5,1.2,3.0,5.0,0.6,2.5,4.2,1.8,0.3,2.0,
1.0,-0.2,1.6,0.4,2.2,0.0,1.3,0.7,-0.5,1.1,
0.5,1.8,0.2,1.0,-0.3,2.5,0.6,1.4,3.5,0.9,
2.0,7.3,1.0,3.5,5.0,2.2,8.0,4.0,1.5,6.0,
3.0,5.5,1.2,4.5,2.0,7.0,3.8,0.8,9.4,2.5,
5.0,1.5,3.5,6.5,2.0,11.8,4.0,1.0,2.8,0.5,
3.0,1.2,0.3,2.0,0.8,-0.4,1.5,0.6,2.4,0.1,
1.1,0.4,1.8,-0.2,0.9,1.5,0.3,2.2,0.7,1.0,
0.2,1.6,-0.5,1.0,2.5,0.6,1.2,-0.1,0.8,1.4];
const dhkLognormalB = [
4.5,2.0,6.0,1.0,3.0,0.5,2.5,4.0,1.2,0.4,
2.0,0.8,1.5,3.0,0.2,1.0,5.5,2.5,4.0,1.5,
2.8,6.0,1.0,3.5,0.6,2.0,0.1,1.6,0.9,2.2,
1.2,0.5,2.2,0.8,-0.2,1.5,0.7,2.8,0.3,1.0,
1.8,0.2,1.0,2.3,0.6,1.5,-0.4,0.9,1.9,0.4,
1.0,6.5,3.0,4.0,1.5,6.0,3.5,2.0,5.0,7.0,
4.0,5.5,1.5,3.0,7.0,2.5,5.5,1.0,3.5,4.0,
2.5,1.2,3.5,0.6,1.8,0.2,1.3,2.5,0.4,1.0,
1.6,0.5,2.0,1.1,0.2,2.6,0.8,1.3,0.3,1.8,
1.4,0.2,2.0,0.6,1.1,2.8,0.4,1.5,0.0,1.2,
3.0,1.0,4.5,2.0,6.5,1.5,3.0,5.5,1.0,2.5,
3.5,5.0,2.0,1.0,4.5,2.5,0.5,3.5,1.5,2.2,
2.5,1.5,0.4,1.8,0.7,2.3,1.0,0.2,1.6,0.9,
0.6,2.0,1.2,0.3,1.6,0.9,2.5,0.1,1.3,0.8,
2.0,0.7,1.4,0.0,1.8,0.5,2.3,1.0,0.3,1.5,
2.0,0.6,3.5,1.5,5.0,2.5,4.0,1.0,3.0,5.5,
2.5,4.5,1.5,3.5,2.0,4.0,0.8,3.0,1.5,0.9,
1.6,0.7,0.2,1.3,0.9,2.6,0.5,1.9,1.1,0.3,
1.4,0.3,2.2,0.8,1.6,0.1,1.1,2.0,0.6,1.8,
3.0,1.5,4.5,2.0,6.0,3.0,1.8,5.0,2.5,4.0,
6.5,2.0,3.5,5.5,1.5,4.0,2.0,5.0,3.0,6.0,
2.0,4.0,7.0,1.0,3.5,2.5,5.5,1.5,3.5,2.0,
1.5,2.5,0.8,1.2,2.0,0.5,0.9,1.7,0.2,1.3,
0.5,2.0,0.9,1.4,0.3,1.8,0.6,1.1,2.4,0.2,
1.0,0.5,1.9,0.7,1.3,0.1,2.0,0.8,1.2,0.4];

const kfeNormal = [
0.5,-0.8,1.0,0.2,-0.4,0.9,-1.0,0.3,0.7,-0.5,
0.1,1.1,-0.6,0.4,-1.2,0.6,0.0,-0.3,0.8,-0.7,
0.3,-0.9,0.7,1.2,-0.2,0.5,-1.3,0.1,0.9,-0.4,
-0.1,0.6,-0.7,1.0,0.2,-0.5,0.4,-1.1,0.8,0.0,
0.4,-0.6,0.2,0.7,-0.3,0.1,-0.8,0.5,-0.2,0.3,
-0.4,0.6,0.0,-0.5,0.3,-0.2,0.7,-0.9,0.2,-0.1,
0.5,-0.3,0.1,-0.7,1.2,-0.6,0.9,-1.3,1.5,-0.4,
-1.8,1.9,0.3,-2.2,2.5,-1.5,1.0,-2.8,4.0,-13.3,
7.5,-6.0,10.0,3.5,-10.0,5.0,-3.0,7.0,-6.5,2.0,
-4.0,6.0,-11.0,1.5,-8.0,4.5,-10.0,7.0,-2.5,-8.5,
7.7,-5.0,2.5,7.0,-7.0,3.0,-4.0,5.5,-9.5,1.0,
16.9,-7.5,-9.0,3.5,-2.5,4.0,-1.5,2.0,-3.0,1.2,
-2.0,3.0,0.5,-1.5,2.5,-3.5,1.0,0.0,2.0,-2.5,
1.5,-0.5,3.5,-1.8,0.8,2.2,-3.0,1.0,-0.8,2.8,
0.3,-2.2,1.8,-0.6,3.5,-1.2,0.5,2.0,-2.8,1.2,
-0.4,2.5,-1.5,0.9,-3.2,1.6,0.2,-1.0,2.8,-0.3,
1.4,-2.0,0.6,3.2,-0.9,1.9,-2.5,0.4,2.2,-1.4,
0.7,-4.5,2.4,-0.5,1.5,-1.8,3.0,0.1,-2.2,4.8,
1.0,-1.5,2.0,-0.2,5.0,-5.0,1.6,-2.8,0.6,2.5,
-0.8,1.8,-2.4,0.3,2.8,-1.1,0.9,-3.0,1.5,-0.5,
2.2,-1.7,0.5,1.4,-2.6,0.8,2.5,-0.9,1.2,-1.9,
0.4,2.0,-1.3,0.9,-2.2,1.7,-0.4,3.0,-1.0,0.6,
-1.6,1.1,2.4,-0.7,0.3,-2.9,1.8,0.0,-1.2,2.6,
1.0,-2.0,0.5,3.2,-1.4,0.8,-0.3,2.1,-2.5,1.3,
3.8,-4.5,2.0,-1.0,3.5,0.4,-2.2,1.6,-0.6,2.8];
const kfeNormalB = [
-0.2,0.6,-0.9,0.4,0.8,-0.3,0.1,-0.7,1.1,0.0,
0.7,-0.4,0.2,0.9,-0.6,0.3,-1.0,0.5,-0.1,0.6,
-0.5,0.4,1.0,-0.2,0.6,-0.8,0.3,-0.4,0.2,1.1,
0.5,-1.0,0.1,0.4,-0.3,0.9,-0.6,0.2,-0.4,0.7,
-0.2,0.5,-0.5,0.3,0.1,-0.4,0.6,-0.1,0.4,-0.6,
0.2,-0.3,0.5,0.1,-0.7,0.4,-0.2,0.3,-0.5,0.6,
-0.6,0.8,-0.4,0.9,-0.2,1.0,-0.9,0.6,-1.6,1.2,
1.0,-1.2,2.5,-0.5,1.6,-2.0,3.0,-1.0,7.5,-6.5,
-2.0,6.0,-8.5,1.0,5.5,-3.5,8.0,-1.5,4.0,-5.5,
3.0,-2.0,7.5,-6.5,2.5,-4.5,6.5,-3.0,4.0,0.5,
-2.5,5.0,-6.0,1.5,4.5,-8.5,3.5,-1.5,6.0,-3.0,
-4.0,5.5,1.5,-3.5,0.5,2.5,-2.0,3.2,-1.0,0.5,
1.5,-1.2,2.8,-3.0,0.8,1.6,-0.6,2.5,-2.2,0.2,
-2.6,1.9,0.3,-1.0,2.4,-0.4,1.2,-3.5,0.6,-1.5,
2.2,0.5,-1.8,1.4,-0.3,2.8,-2.0,0.9,0.0,-1.2,
1.8,-2.4,0.6,2.0,-0.8,1.1,-1.6,3.2,-0.5,0.8,
-1.0,2.5,-0.2,-2.8,1.6,0.3,-1.5,2.2,0.6,-2.0,
3.5,0.2,-2.6,1.3,-0.7,2.0,-1.4,4.0,0.5,-1.8,
-0.4,2.6,-3.2,0.9,1.8,-1.0,3.5,-0.6,1.2,-2.4,
2.0,-0.3,1.2,-1.6,0.5,2.4,-2.2,0.7,-0.9,1.6,
-0.5,1.3,-2.0,2.7,0.0,-1.2,1.9,-0.3,-3.0,0.8,
1.5,-0.8,2.6,-1.8,0.3,1.1,-2.5,0.6,2.1,-1.2,
0.7,-2.4,1.4,0.2,2.9,-0.9,0.4,-1.6,1.0,-0.3,
-1.5,2.2,0.1,-0.8,1.7,-2.6,2.4,0.5,-1.1,3.0,
0.6,-2.0,3.2,-0.4,1.0,-1.5,2.3,-3.0,1.8,-0.9];

const kfeStudent = [
0.1,-0.2,0.3,0.0,-0.3,0.2,-0.1,0.4,-0.2,0.1,
-0.1,0.2,0.0,-0.3,0.3,-0.1,0.1,-0.2,0.5,0.0,
0.2,-0.1,-0.3,0.1,0.3,-0.2,0.0,0.2,-0.1,0.1,
-0.2,0.1,0.3,-0.1,0.0,-0.3,0.2,0.1,-0.2,0.0,
0.3,-0.1,0.1,-0.2,0.2,0.0,-0.3,0.1,0.2,-0.1,
0.0,0.2,-0.2,0.1,-0.1,0.3,0.0,-0.2,0.1,0.2,
-0.1,0.0,0.2,-0.3,0.1,-0.1,0.3,0.0,-0.2,0.1,
0.2,-0.4,0.5,-0.8,1.0,0.3,-1.0,0.8,-0.5,1.5,
1.2,-0.6,0.4,-0.2,0.7,0.1,-0.1,0.2,0.0,-0.2,
0.1,-0.1,0.2,0.0,-0.2,0.1,0.0,0.2,-0.1,0.0,
0.1,-0.2,0.0,0.2,-0.1,0.1,0.0,-0.1,0.2,0.0,
1.5,-2.5,2.5,-1.0,5.0,0.5,-3.0,2.0,-1.5,1.0,
-2.0,2.8,0.3,-1.2,1.8,-3.5,0.8,2.2,-0.5,1.5,
-1.8,3.8,0.0,-2.5,1.2,2.5,-1.0,0.5,-4.5,1.8,
0.3,-2.2,2.0,-0.8,3.0,-1.5,0.7,2.5,-3.2,1.0,
-4.9,0.5,3.5,-1.8,1.5,-0.6,2.2,-2.8,0.9,3.0,
-13.9,1.2,-2.0,3.5,0.4,-3.5,1.8,-1.0,2.6,-0.5,
-9.8,-7.0,2.0,-2.5,3.2,0.6,-1.5,2.5,-3.8,6.3,
0.8,4.0,9.2,-1.2,2.4,-2.8,0.2,3.5,-1.6,1.4,
-0.5,2.8,-5.0,1.0,-2.2,3.0,0.3,-1.4,2.2,-3.0,
1.6,-0.8,3.0,-2.0,0.6,2.4,-1.2,-6.2,1.0,3.0,
-5.2,0.9,0.2,-0.4,0.5,-0.1,0.3,-0.5,0.2,0.6,
-0.3,0.4,-0.6,0.2,0.0,-0.4,0.5,-0.2,0.3,-0.1,
0.4,-0.3,-2.5,0.2,-0.5,0.6,0.0,-0.2,0.3,-0.4,
0.1,-0.4,0.5,-0.2,0.3,-0.5,0.2,1.5,-0.3,0.4];
const kfeStudentB = [
-0.1,0.2,0.0,-0.2,0.1,0.3,-0.1,0.0,0.2,-0.3,
0.2,0.0,-0.2,0.1,-0.1,0.2,0.0,0.3,-0.2,0.1,
0.0,0.3,-0.1,-0.2,0.1,0.0,0.2,-0.3,0.1,-0.1,
0.1,-0.1,0.0,0.2,-0.2,0.1,0.0,-0.1,0.3,0.0,
-0.2,0.1,0.0,0.2,-0.1,-0.2,0.1,0.0,-0.1,0.2,
0.1,-0.1,0.3,0.0,0.2,-0.2,0.1,0.0,-0.3,0.1,
0.2,0.1,-0.1,0.2,0.0,-0.2,0.1,0.3,0.0,-0.1,
0.0,0.3,-0.2,0.6,-0.4,-0.7,0.5,1.2,0.4,-0.6,
0.7,0.3,-0.4,0.9,-0.1,0.2,0.0,-0.1,0.1,0.2,
-0.1,0.2,0.0,-0.1,0.1,0.0,-0.2,0.1,0.2,-0.1,
0.0,0.1,0.2,-0.1,0.0,-0.2,0.1,0.0,-0.1,0.1,
-1.5,0.8,-0.5,3.5,-2.0,1.8,0.2,-1.0,2.6,-2.5,
1.0,-1.6,3.0,-0.4,2.0,-2.2,1.4,-0.8,2.5,0.0,
2.2,-1.2,0.8,3.2,-3.0,0.4,1.6,-2.0,2.8,-0.6,
-1.0,2.4,-0.3,1.2,-2.6,3.5,0.6,-1.8,0.9,2.0,
1.8,-2.2,0.4,2.6,-1.0,3.8,-3.5,1.2,-0.7,2.0,
-2.5,3.0,0.8,-1.6,2.2,-0.4,3.6,-2.0,1.0,0.2,
2.8,-1.2,0.5,3.8,-2.8,1.5,0.0,-4.0,2.0,1.0,
-2.0,1.5,3.0,-0.6,3.8,1.0,-2.4,0.5,2.6,-1.0,
2.0,-3.0,0.8,3.2,-1.4,1.6,-0.2,2.8,-2.6,0.4,
-1.5,2.4,0.2,-3.2,3.0,-0.8,1.4,2.2,-1.0,-5.0,
2.5,0.0,-0.5,0.3,-0.2,0.4,0.1,-0.3,0.5,0.0,
0.2,-0.5,0.3,-0.1,0.6,0.0,-0.3,0.2,-0.4,0.4,
-0.2,0.3,0.1,-0.6,0.2,0.0,0.4,-0.3,0.1,0.5,
-0.3,0.2,0.0,0.4,-0.2,0.1,-0.5,0.3,0.0,-0.1];

const kfeLognormal = [
0.8,-1.2,0.5,-2.0,-5.2,1.0,-1.8,2.5,-0.5,1.4,
2.4,-1.0,0.3,1.8,-1.6,0.9,-0.4,2.5,3.3,-1.2,
0.6,-0.8,1.5,0.1,-1.4,1.0,-0.2,-2.6,0.7,-1.9,
1.2,-0.5,3.1,0.3,-1.1,1.7,-0.7,0.5,1.4,-1.5,
0.2,2.5,-0.9,0.8,-1.7,1.1,-0.3,0.6,-1.0,1.3,
-0.6,0.9,-1.4,0.4,1.0,-0.8,0.2,-1.3,0.7,0.0,
0.4,-0.3,0.1,-0.2,0.3,0.0,-0.1,0.2,-0.3,0.1,
0.0,0.2,-0.2,0.1,-0.1,0.3,0.0,-0.2,0.1,-0.1,
0.2,-0.1,0.0,0.1,-0.2,0.1,0.0,-0.1,0.2,0.0,
-0.1,0.1,0.2,-0.2,0.0,0.1,-0.1,0.0,0.2,-0.2,
0.1,0.0,-0.2,0.1,0.2,-0.1,0.0,0.1,-0.1,0.2,
0.0,-0.1,0.1,0.2,-0.2,0.0,0.1,-0.1,0.0,0.1,
-0.2,0.1,0.0,-0.1,0.2,0.1,-0.2,0.0,0.1,-0.1,
0.1,0.2,-0.1,0.0,-0.2,0.1,0.0,0.2,-0.1,0.0,
0.0,-0.1,0.2,0.1,-0.1,0.0,0.2,-0.2,0.1,0.0,
0.1,0.0,-0.2,0.1,0.0,0.2,-0.1,0.1,-0.2,0.0,
0.2,-0.1,0.1,0.0,-0.2,0.3,0.4,-0.5,0.6,-0.3,
0.9,-0.8,0.5,1.1,-0.4,0.2,-1.2,0.8,-0.6,1.3,
0.3,-1.0,1.5,-0.5,2.0,-1.5,0.6,-2.0,1.0,-4.8,
3.2,-3.7,-3.8,1.5,3.6,-1.0,-2.5,2.8,0.4,-1.8,
2.9,-0.5,1.0,-5.0,3.0,-2.2,0.8,1.8,4.4,-1.5,
4.3,0.5,3.5,-2.8,1.2,-3.5,-0.7,2.0,-1.6,0.3,
-2.3,1.5,0.0,2.4,-1.2,3.6,-0.5,1.0,-2.0,2.2,
0.6,-1.5,1.8,-0.3,2.5,-2.6,0.9,-3.1,1.4,-0.8,
2.0,-1.0,0.4,-1.8,1.2,0.3,-2.2,1.6,-0.4,0.8];
const kfeLognormalB = [
-1.0,1.8,-0.3,2.2,0.6,-1.5,0.9,-2.0,1.6,-0.6,
0.2,-1.8,1.2,-0.2,2.0,-1.2,0.5,-0.9,1.7,0.3,
-1.5,1.0,-0.3,2.0,0.4,-0.8,1.4,-1.8,0.2,1.1,
-0.4,1.5,-1.6,0.5,2.3,-0.2,0.9,-1.2,1.8,0.0,
-1.3,1.0,0.3,-2.0,1.4,-0.5,0.8,1.9,-0.8,0.4,
1.0,-0.5,0.6,-1.0,0.3,1.2,-0.4,0.5,-0.6,0.3,
-0.2,0.3,-0.1,0.2,0.0,-0.3,0.1,0.2,0.0,-0.2,
0.1,-0.2,0.0,0.2,-0.1,0.0,0.1,-0.2,0.2,0.0,
-0.1,0.2,0.1,-0.2,0.0,0.1,-0.1,0.2,0.0,-0.1,
0.2,0.0,-0.1,0.1,-0.2,0.2,0.0,-0.1,0.1,0.0,
-0.2,0.1,0.0,-0.1,0.1,0.2,-0.2,0.0,0.1,-0.1,
0.1,0.2,-0.1,0.0,0.1,-0.2,0.2,0.0,-0.1,0.1,
0.0,-0.2,0.1,0.2,-0.1,0.0,0.1,-0.2,0.2,0.0,
-0.1,0.0,0.2,-0.2,0.1,0.0,-0.1,0.1,0.2,-0.1,
0.2,-0.1,0.0,0.1,-0.2,0.1,0.0,0.2,-0.1,0.0,
-0.1,0.2,0.1,-0.1,0.0,0.2,-0.2,0.0,0.1,-0.1,
0.0,0.2,-0.2,0.1,0.3,-0.3,0.2,0.5,-0.4,0.7,
-0.5,1.0,-0.3,0.6,-1.0,0.4,1.2,-0.7,0.9,-0.2,
1.1,-0.6,0.2,2.5,-1.8,1.2,-0.4,2.8,-1.2,0.5,
-2.6,2.4,0.6,-2.0,1.0,2.9,-1.4,0.3,3.5,-2.8,
0.5,2.4,-1.6,1.3,-3.2,0.8,2.6,-0.6,3.2,-2.4,
1.0,-1.3,2.6,-0.4,1.8,-2.5,0.6,3.0,-1.8,2.2,
0.3,-1.6,2.8,-0.8,1.4,-2.2,0.5,1.9,-1.0,0.8,
-2.0,2.5,0.2,-1.2,3.0,-0.7,1.6,-1.9,0.4,2.1,
-1.3,0.5,1.8,-0.6,2.4,-2.0,0.9,-0.2,1.4,-1.0];

const seriesValues = [fmsNormal,fmsStudent,fmsLognormal,mixNormal,mixStudent,mixLognormal,
 intervalNormal,intervalStudent,intervalLognormal,dhkNormal,dhkStudent,dhkLognormal,
 kfeNormal,kfeStudent,kfeLognormal];
const seriesValuesB = [null,null,null,null,null,null,
 intervalNormalB,intervalStudentB,intervalLognormalB,dhkNormalB,dhkStudentB,dhkLognormalB,
 kfeNormalB,kfeStudentB,kfeLognormalB];
const xTicksByRow = [xTicks500,xTicks560,xTicks1000,xTicks1000,xTicks1000];

// ---------------- drawing ----------------
const svg = d3.select("#c");
svg.append("rect").attr("width",854).attr("height",1160).attr("fill","#fff");
const colLeft = [0,285,570];
const colRight = [280,565,852.5];
const capX = [141,425,711];
const tickFont = 5.5;

function minors(ticks, dom){
  const s = ticks.length>1 ? ticks[1]-ticks[0] : 1;
  const out = [];
  for (let i=-1;i<ticks.length;i++){
    const v = (i<0? ticks[0]-s/2 : ticks[i]+s/2);
    if (v>dom[0] && v<dom[1]) out.push(v);
  }
  return out;
}

captions.forEach((cap,i)=>{
  const col = i%3, row = Math.floor(i/3);
  const step = sampleStep[i];
  const pts = seriesValues[i].map((v,j)=>({t:1+j*step, v}));
  if (seriesValuesB[i]) seriesValuesB[i].forEach((v,j)=>pts.push({t:3+j*step, v}));
  const N = seriesLength[i];
  const yt = yTicks[i], xt = xTicksByRow[row];
  const dec = yt.some(v=>!Number.isInteger(v));
  const fmt = v => dec ? v.toFixed(1) : String(v);

  const tmp = svg.append("text").attr("class","tk").attr("font-size",tickFont);
  let w = 0;
  yt.forEach(v=>{ tmp.text(fmt(v)); w = Math.max(w, tmp.node().getComputedTextLength()); });
  tmp.remove();

  const top = 3 + row*237.5, bottom = top + 153;
  const left = colLeft[col] + 9.5 + w, right = colRight[col];

  const xPad = 0.05*(N-1);
  const x = d3.scaleLinear().domain([1-xPad, N+xPad]).range([left,right]);
  const ext = d3.extent(pts, d=>d.v); const yPad = 0.05*(ext[1]-ext[0]);
  const y = d3.scaleLinear().domain([ext[0]-yPad, ext[1]+yPad]).range([bottom,top]);

  const g = svg.append("g");
  g.append("g").selectAll("line").data(minors(xt,x.domain())).join("line")
    .attr("x1",d=>x(d)).attr("x2",d=>x(d)).attr("y1",top).attr("y2",bottom)
    .attr("stroke","#f0f0f0").attr("stroke-width",0.4);
  g.append("g").selectAll("line").data(minors(yt,y.domain())).join("line")
    .attr("y1",d=>y(d)).attr("y2",d=>y(d)).attr("x1",left).attr("x2",right)
    .attr("stroke","#f0f0f0").attr("stroke-width",0.4);
  g.append("g").selectAll("line").data(xt).join("line")
    .attr("x1",d=>x(d)).attr("x2",d=>x(d)).attr("y1",top).attr("y2",bottom)
    .attr("stroke","#e4e4e4").attr("stroke-width",0.6);
  g.append("g").selectAll("line").data(yt).join("line")
    .attr("y1",d=>y(d)).attr("y2",d=>y(d)).attr("x1",left).attr("x2",right)
    .attr("stroke","#e4e4e4").attr("stroke-width",0.6);

  g.append("g").selectAll("circle").data(pts).join("circle")
    .attr("cx",d=>x(d.t)).attr("cy",d=>y(d.v)).attr("r",0.85).attr("fill","#000");

  g.append("rect").attr("x",left).attr("y",top).attr("width",right-left).attr("height",bottom-top)
    .attr("fill","none").attr("stroke","#c8c8c8").attr("stroke-width",0.9);

  const ax = d3.axisBottom(x).tickValues(xt).tickSize(2).tickPadding(1).tickFormat(d=>String(d));
  const axg = g.append("g").attr("transform",`translate(0,${bottom})`).call(ax);
  const ay = d3.axisLeft(y).tickValues(yt).tickSize(2).tickPadding(1).tickFormat(fmt);
  const ayg = g.append("g").attr("transform",`translate(${left},0)`).call(ay);
  [axg,ayg].forEach(a=>{
    a.attr("font-family",null).attr("font-size",null);
    a.select(".domain").remove();
    a.selectAll(".tick line").attr("stroke","#c8c8c8").attr("stroke-width",0.6);
    a.selectAll(".tick text").attr("class","tk").attr("fill","#4d4d4d").attr("font-size",tickFont);
  });

  g.append("text").attr("class","tk").attr("x",(left+right)/2).attr("y",bottom+14).attr("text-anchor","middle")
    .attr("font-size",7).attr("fill","#222").text("t");

  svg.append("text").attr("class","cap").attr("x",capX[col]).attr("y",top+200).attr("text-anchor","middle")
    .attr("font-size",23.5).attr("fill","#000").text(cap);
});
</script>
</body></html>
